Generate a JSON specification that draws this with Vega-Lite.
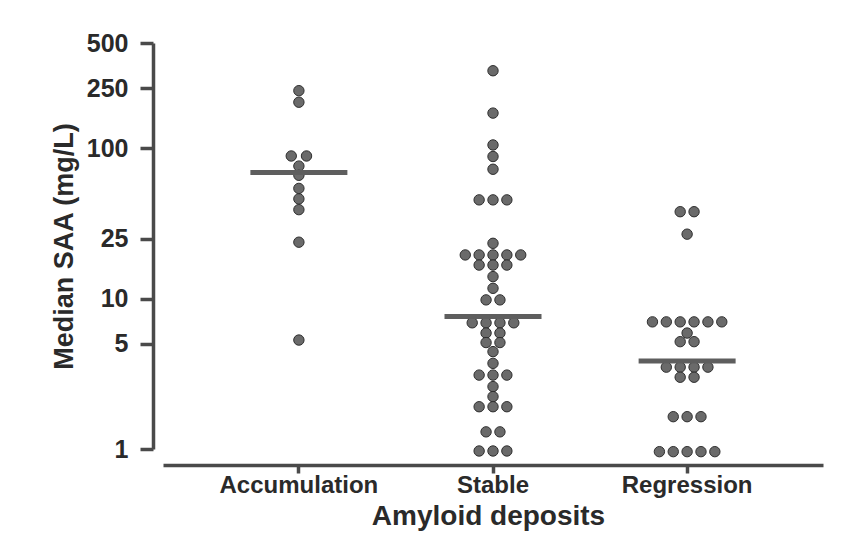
{
  "$schema": "https://vega.github.io/schema/vega-lite/v6.json",
  "width": 660,
  "height": 406,
  "autosize": {"type": "none"},
  "padding": {"left": 163, "top": 43, "right": 21, "bottom": 104},
  "background": "white",
  "config": {"view": {"stroke": null}, "font": "Liberation Sans"},
  "datasets": {
    "dots": [
      {"group": "Accumulation", "saa": 241, "slot": 0},
      {"group": "Accumulation", "saa": 202, "slot": 0},
      {"group": "Accumulation", "saa": 88.7, "slot": -1.1},
      {"group": "Accumulation", "saa": 88.7, "slot": 1.1},
      {"group": "Accumulation", "saa": 76, "slot": 0},
      {"group": "Accumulation", "saa": 66, "slot": 0},
      {"group": "Accumulation", "saa": 54, "slot": 0},
      {"group": "Accumulation", "saa": 46, "slot": 0},
      {"group": "Accumulation", "saa": 39, "slot": 0},
      {"group": "Accumulation", "saa": 23.7, "slot": 0},
      {"group": "Accumulation", "saa": 5.3, "slot": 0},
      {"group": "Stable", "saa": 327, "slot": 0},
      {"group": "Stable", "saa": 171, "slot": 0},
      {"group": "Stable", "saa": 105, "slot": 0},
      {"group": "Stable", "saa": 88, "slot": 0},
      {"group": "Stable", "saa": 72.4, "slot": 0},
      {"group": "Stable", "saa": 45.3, "slot": -2},
      {"group": "Stable", "saa": 45.3, "slot": 0},
      {"group": "Stable", "saa": 45.3, "slot": 2},
      {"group": "Stable", "saa": 23.3, "slot": 0},
      {"group": "Stable", "saa": 19.5, "slot": -4},
      {"group": "Stable", "saa": 19.5, "slot": -2},
      {"group": "Stable", "saa": 19.5, "slot": 0},
      {"group": "Stable", "saa": 19.5, "slot": 2},
      {"group": "Stable", "saa": 19.5, "slot": 4},
      {"group": "Stable", "saa": 16.7, "slot": -2},
      {"group": "Stable", "saa": 16.7, "slot": 0},
      {"group": "Stable", "saa": 16.7, "slot": 2},
      {"group": "Stable", "saa": 14, "slot": 0},
      {"group": "Stable", "saa": 11.7, "slot": 0},
      {"group": "Stable", "saa": 9.8, "slot": -1},
      {"group": "Stable", "saa": 9.8, "slot": 1},
      {"group": "Stable", "saa": 6.9, "slot": -3},
      {"group": "Stable", "saa": 6.9, "slot": -1},
      {"group": "Stable", "saa": 6.9, "slot": 1},
      {"group": "Stable", "saa": 6.9, "slot": 3},
      {"group": "Stable", "saa": 5.9, "slot": -1},
      {"group": "Stable", "saa": 5.9, "slot": 1},
      {"group": "Stable", "saa": 5.1, "slot": -1},
      {"group": "Stable", "saa": 5.1, "slot": 1},
      {"group": "Stable", "saa": 4.44, "slot": 0},
      {"group": "Stable", "saa": 3.71, "slot": 0},
      {"group": "Stable", "saa": 3.1, "slot": -2},
      {"group": "Stable", "saa": 3.1, "slot": 0},
      {"group": "Stable", "saa": 3.1, "slot": 2},
      {"group": "Stable", "saa": 2.6, "slot": 0},
      {"group": "Stable", "saa": 2.23, "slot": 0},
      {"group": "Stable", "saa": 1.91, "slot": -2},
      {"group": "Stable", "saa": 1.91, "slot": 0},
      {"group": "Stable", "saa": 1.91, "slot": 2},
      {"group": "Stable", "saa": 1.3, "slot": -1},
      {"group": "Stable", "saa": 1.3, "slot": 1},
      {"group": "Stable", "saa": 0.97, "slot": -2},
      {"group": "Stable", "saa": 0.97, "slot": 0},
      {"group": "Stable", "saa": 0.97, "slot": 2},
      {"group": "Regression", "saa": 37.8, "slot": -1},
      {"group": "Regression", "saa": 37.8, "slot": 1},
      {"group": "Regression", "saa": 26.8, "slot": 0},
      {"group": "Regression", "saa": 7.0, "slot": -5},
      {"group": "Regression", "saa": 7.0, "slot": -3},
      {"group": "Regression", "saa": 7.0, "slot": -1},
      {"group": "Regression", "saa": 7.0, "slot": 1},
      {"group": "Regression", "saa": 7.0, "slot": 3},
      {"group": "Regression", "saa": 7.0, "slot": 5},
      {"group": "Regression", "saa": 5.9, "slot": 0},
      {"group": "Regression", "saa": 5.17, "slot": -1},
      {"group": "Regression", "saa": 5.17, "slot": 1},
      {"group": "Regression", "saa": 3.5, "slot": -3},
      {"group": "Regression", "saa": 3.5, "slot": -1},
      {"group": "Regression", "saa": 3.5, "slot": 1},
      {"group": "Regression", "saa": 3.5, "slot": 3},
      {"group": "Regression", "saa": 3.0, "slot": -1},
      {"group": "Regression", "saa": 3.0, "slot": 1},
      {"group": "Regression", "saa": 1.64, "slot": -2},
      {"group": "Regression", "saa": 1.64, "slot": 0},
      {"group": "Regression", "saa": 1.64, "slot": 2},
      {"group": "Regression", "saa": 0.96, "slot": -4},
      {"group": "Regression", "saa": 0.96, "slot": -2},
      {"group": "Regression", "saa": 0.96, "slot": 0},
      {"group": "Regression", "saa": 0.96, "slot": 2},
      {"group": "Regression", "saa": 0.96, "slot": 4}
    ],
    "medians": [
      {"group": "Accumulation", "saa": 69},
      {"group": "Stable", "saa": 7.6},
      {"group": "Regression", "saa": 3.85}
    ]
  },
  "layer": [
    {
      "data": {"name": "dots"},
      "mark": {"type": "circle", "size": 108, "fill": "#6a6a6a", "stroke": "#2e2e2e", "strokeWidth": 1, "opacity": 1},
      "encoding": {
        "x": {
          "field": "group", "type": "nominal",
          "sort": ["Accumulation", "Stable", "Regression"],
          "scale": {"paddingInner": 0, "paddingOuter": 0.2},
          "axis": {
            "title": "Amyloid deposits",
            "offset": 16,
            "domainWidth": 3.5, "domainColor": "#4a4a4a",
            "tickWidth": 3.5, "tickColor": "#4a4a4a", "tickSize": 8,
            "labelAngle": 0, "labelFont": "Liberation Sans", "labelFontWeight": "bold",
            "labelFontSize": 24, "labelColor": "#2a2a2a", "labelPadding": 0,
            "titleFont": "Liberation Sans", "titleFontSize": 28, "titleFontWeight": "bold",
            "titleColor": "#2a2a2a", "titleX": 325, "titleY": 37, "titleBaseline": "top", "titleAlign": "center"
          }
        },
        "xOffset": {"field": "slot", "type": "quantitative", "scale": {"domain": [-14, 14]}},
        "y": {
          "field": "saa", "type": "quantitative",
          "scale": {"type": "log", "domain": [1, 500], "nice": false},
          "axis": {
            "title": "Median SAA (mg/L)",
            "values": [1, 5, 10, 25, 100, 250, 500],
            "format": "d",
            "offset": 10, "grid": false,
            "domainWidth": 3.5, "domainColor": "#4a4a4a",
            "tickWidth": 3.5, "tickColor": "#4a4a4a", "tickSize": 13,
            "labelFont": "Liberation Sans", "labelFontWeight": "bold", "labelFontSize": 25,
            "labelColor": "#2a2a2a", "labelPadding": 12, "labelOverlap": false, "labelFlush": false,
            "titleFont": "Liberation Sans", "titleFontSize": 27, "titleFontWeight": "bold",
            "titleColor": "#2a2a2a", "titleX": -89, "titleY": 203, "titleAngle": -90,
            "titleAlign": "center", "titleBaseline": "middle"
          }
        }
      }
    },
    {
      "data": {"name": "medians"},
      "mark": {"type": "tick", "size": 97, "thickness": 5, "color": "#5e5e5e", "opacity": 1},
      "encoding": {
        "x": {"field": "group", "type": "nominal", "sort": ["Accumulation", "Stable", "Regression"]},
        "y": {"field": "saa", "type": "quantitative"}
      }
    }
  ]
}
